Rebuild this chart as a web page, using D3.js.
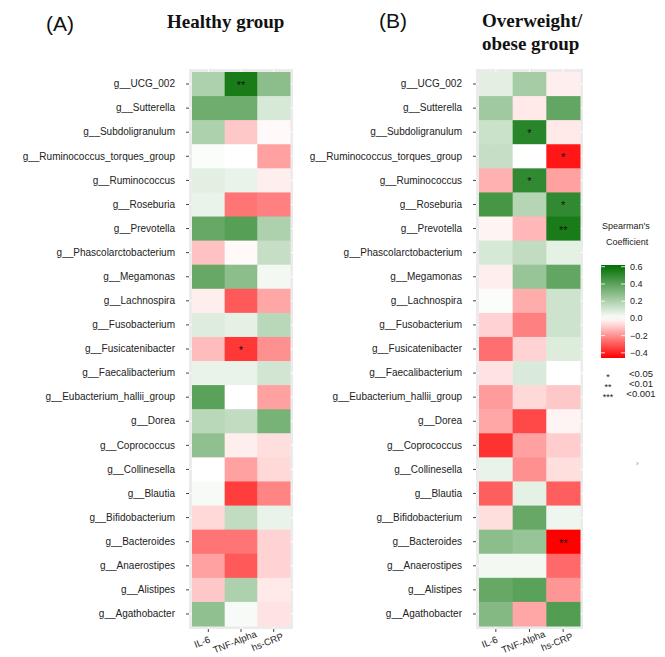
<!DOCTYPE html>
<html>
<head>
<meta charset="utf-8">
<script src="https://cdn.jsdelivr.net/npm/d3@7"></script>
<style>
  body { margin: 0; background: #fff; }
  svg { display: block; font-family: "Liberation Sans", Arial, sans-serif; }
</style>
</head>
<body>
<div id="chart"></div>
<script>
// genera (rows, top to bottom) and markers (columns)
const genera = ['g__UCG_002', 'g__Sutterella', 'g__Subdoligranulum', 'g__Ruminococcus_torques_group',
  'g__Ruminococcus', 'g__Roseburia', 'g__Prevotella', 'g__Phascolarctobacterium', 'g__Megamonas',
  'g__Lachnospira', 'g__Fusobacterium', 'g__Fusicatenibacter', 'g__Faecalibacterium',
  'g__Eubacterium_hallii_group', 'g__Dorea', 'g__Coprococcus', 'g__Collinesella', 'g__Blautia',
  'g__Bifidobacterium', 'g__Bacteroides', 'g__Anaerostipes', 'g__Alistipes', 'g__Agathobacter']
const markers = ['IL-6', 'TNF-Alpha', 'hs-CRP']

// spearman coefficients, [IL-6, TNF-Alpha, hs-CRP] per genus
const healthyRho = [
  [0.20, 0.56, 0.28], [0.35, 0.35, 0.10], [0.20, -0.10, -0.01], [0.01, 0.00, -0.17],
  [0.07, 0.05, -0.03], [0.05, -0.25, -0.23], [0.37, 0.41, 0.20], [-0.11, -0.01, 0.14],
  [0.37, 0.28, 0.03], [-0.03, -0.30, -0.16], [0.08, 0.06, 0.17], [-0.12, -0.36, -0.20],
  [0.05, 0.05, 0.11], [0.40, 0.00, -0.17], [0.17, 0.15, 0.33], [0.27, -0.03, -0.06],
  [0.00, -0.17, -0.07], [0.02, -0.35, -0.22], [-0.07, 0.15, 0.05], [-0.25, -0.25, -0.08],
  [-0.17, -0.30, -0.08], [-0.10, 0.20, -0.04], [0.27, 0.02, -0.05]
]
const obeseRho = [
  [0.07, 0.22, -0.03], [0.23, -0.04, 0.38], [0.13, 0.52, -0.04], [0.14, 0.00, -0.42],
  [-0.14, 0.50, -0.17], [0.45, 0.18, 0.50], [-0.02, -0.13, 0.56], [0.10, 0.15, 0.06],
  [-0.03, 0.25, 0.38], [0.01, -0.15, 0.12], [-0.08, -0.23, 0.12], [-0.26, -0.08, 0.08],
  [-0.05, 0.09, 0.00], [-0.18, -0.07, -0.10], [-0.16, -0.33, -0.02], [-0.37, -0.17, -0.09],
  [0.05, -0.20, -0.06], [-0.29, 0.06, -0.29], [-0.06, 0.37, 0.04], [0.28, 0.25, -0.46],
  [0.03, 0.03, -0.27], [0.37, 0.40, -0.19], [0.30, -0.16, 0.42]
]
// significance marks: [genus, marker, stars]
const healthySig = [['g__UCG_002', 'TNF-Alpha', '**'], ['g__Fusicatenibacter', 'TNF-Alpha', '*']]
const obeseSig = [['g__Subdoligranulum', 'TNF-Alpha', '*'], ['g__Ruminococcus_torques_group', 'hs-CRP', '*'],
  ['g__Ruminococcus', 'TNF-Alpha', '*'], ['g__Roseburia', 'hs-CRP', '*'],
  ['g__Prevotella', 'hs-CRP', '**'], ['g__Bacteroides', 'hs-CRP', '**']]

const legendTicks = [0.6, 0.4, 0.2, 0.0, -0.2, -0.4]
const pStars = ['*', '**', '***']
const pCuts = ['<0.05', '<0.01', '<0.001']

const W = 665, H = 657
const svg = d3.select('#chart').append('svg').attr('width', W).attr('height', H)

const color = d3.scaleLinear()
  .domain([-0.46, 0, 0.62])
  .range(['#ff0000', '#ffffff', '#006e00'])
  .interpolate(d3.interpolateRgb)
  .clamp(true)

function heatmap(data, sig, x0, x1, y0, y1) {
  var x = d3.scaleBand().domain(markers).range([x0, x1])
  var y = d3.scaleBand().domain(genera).range([y0, y1])
  var g = svg.append('g')

  // grey panel with white gridlines
  g.append('rect')
    .attr('x', x0 - 3).attr('y', y0 - 3)
    .attr('width', x1 - x0 + 6).attr('height', y1 - y0 + 6)
    .attr('fill', '#ebebeb')
  g.selectAll('.vg').data(markers).enter().append('line')
    .attr('x1', d => x(d) + x.bandwidth() / 2).attr('x2', d => x(d) + x.bandwidth() / 2)
    .attr('y1', y0 - 3).attr('y2', y1 + 3)
    .attr('stroke', '#fff').attr('stroke-width', 1)
  g.selectAll('.hg').data(genera).enter().append('line')
    .attr('y1', d => y(d) + y.bandwidth() / 2).attr('y2', d => y(d) + y.bandwidth() / 2)
    .attr('x1', x0 - 3).attr('x2', x1 + 3)
    .attr('stroke', '#fff').attr('stroke-width', 1)

  var cells = []
  data.forEach((row, i) => {
    row.forEach((v, j) => cells.push({ genus: genera[i], marker: markers[j], v: v }))
  })
  g.selectAll('rect.cell').data(cells).enter().append('rect')
    .attr('class', 'cell')
    .attr('x', d => x(d.marker)).attr('y', d => y(d.genus))
    .attr('width', x.bandwidth() + 0.5).attr('height', y.bandwidth() + 0.5)
    .attr('fill', d => color(d.v))

  g.selectAll('text.sig').data(sig).enter().append('text')
    .attr('class', 'sig')
    .attr('x', d => x(d[1]) + x.bandwidth() / 2)
    .attr('y', d => y(d[0]) + y.bandwidth() / 2 + 5)
    .attr('text-anchor', 'middle')
    .attr('font-size', 11)
    .attr('fill', '#111')
    .text(d => d[2])

  // axes
  var ay = g.append('g').attr('transform', 'translate(' + (x0 - 3) + ',0)')
    .call(d3.axisLeft(y).tickSize(3).tickPadding(11))
  ay.select('.domain').remove()
  ay.selectAll('line').attr('stroke', '#444')
  ay.selectAll('text').attr('font-size', 10).attr('fill', '#222')

  var ax = g.append('g').attr('transform', 'translate(0,' + (y1 + 3) + ')')
    .call(d3.axisBottom(x).tickSize(3))
  ax.select('.domain').remove()
  ax.selectAll('line').attr('stroke', '#444')
  ax.selectAll('text')
    .attr('font-size', 9.5).attr('fill', '#222')
    .attr('text-anchor', 'middle')
    .attr('x', 0).attr('y', 0).attr('dy', 0)
    .attr('transform', 'translate(-5,16) rotate(-22)')
}

heatmap(healthyRho, healthySig, 192, 290, 72, 626)
heatmap(obeseRho, obeseSig, 479, 580, 72, 626)

// panel letters and titles
svg.append('text').attr('x', 46).attr('y', 31).attr('font-size', 21).attr('fill', '#111').text('(A)')
svg.append('text').attr('x', 379).attr('y', 28).attr('font-size', 21).attr('fill', '#111').text('(B)')
svg.append('text').attr('x', 167).attr('y', 28)
  .attr('font-family', '"Liberation Serif", serif').attr('font-weight', 'bold')
  .attr('font-size', 19).attr('fill', '#111').text('Healthy group')
svg.append('text').attr('x', 482).attr('y', 27)
  .attr('font-family', '"Liberation Serif", serif').attr('font-weight', 'bold')
  .attr('font-size', 19).attr('fill', '#111').text('Overweight/')
svg.append('text').attr('x', 482).attr('y', 50)
  .attr('font-family', '"Liberation Serif", serif').attr('font-weight', 'bold')
  .attr('font-size', 19).attr('fill', '#111').text('obese group')

// colour legend
const lg = svg.append('g')
lg.append('text').attr('x', 602).attr('y', 229).attr('font-size', 9).attr('fill', '#222').text("Spearman's")
lg.append('text').attr('x', 606).attr('y', 245).attr('font-size', 9).attr('fill', '#222').text('Coefficient')

const ly = d3.scaleLinear().domain([-0.46, 0.62]).range([358, 265])
const grad = svg.append('defs').append('linearGradient')
  .attr('id', 'rho-grad').attr('x1', 0).attr('y1', 1).attr('x2', 0).attr('y2', 0)
d3.range(0, 1.0001, 0.05).forEach(t => {
  grad.append('stop').attr('offset', t).attr('stop-color', color(-0.46 + t * 1.08))
})
lg.append('rect').attr('x', 601).attr('y', 265).attr('width', 24).attr('height', 93)
  .attr('fill', 'url(#rho-grad)')
lg.selectAll('.tl').data(legendTicks).enter().append('g').each(function (d) {
  var s = d3.select(this)
  s.append('line').attr('x1', 601).attr('x2', 605).attr('y1', ly(d)).attr('y2', ly(d))
    .attr('stroke', '#fff').attr('stroke-opacity', 0.8)
  s.append('line').attr('x1', 621).attr('x2', 625).attr('y1', ly(d)).attr('y2', ly(d))
    .attr('stroke', '#fff').attr('stroke-opacity', 0.8)
  s.append('text').attr('x', 630).attr('y', ly(d) + 3).attr('font-size', 9).attr('fill', '#222')
    .text(d3.format('.1f')(d))
})

// p-value key: stars column and cut-off column
lg.selectAll('.ps').data(pStars).enter().append('text')
  .attr('x', 608).attr('y', (d, i) => 380 + i * 10)
  .attr('text-anchor', 'middle').attr('font-size', 9).attr('fill', '#222')
  .text(d => d)
lg.selectAll('.pc').data(pCuts).enter().append('text')
  .attr('x', 641).attr('y', (d, i) => 377 + i * 10)
  .attr('text-anchor', 'middle').attr('font-size', 9.5).attr('fill', '#222')
  .text(d => d)

svg.append('text').attr('x', 636).attr('y', 466).attr('font-size', 8).attr('fill', '#888').text('›')
</script>
</body>
</html>
